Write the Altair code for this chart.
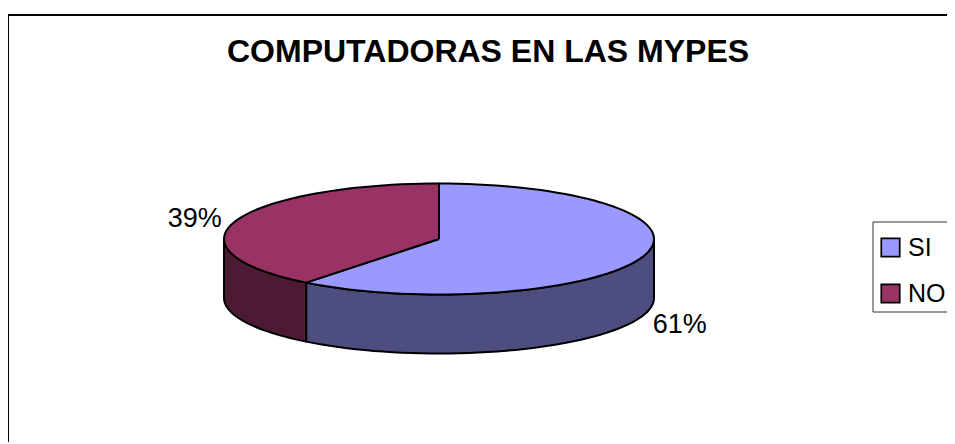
import numpy as np
import pandas as pd
import altair as alt

categories = ["SI", "NO"]
shares = [60.6, 39.4]
labels = ["61%", "39%"]
top_colors = ["#9999FF", "#993366"]
side_colors = ["#4D4D80", "#4D1A33"]
title_text = "COMPUTADORAS EN LAS MYPES"

# layout (page pixels)
PLOT_L, PLOT_T, PLOT_W, PLOT_H = 8, 15, 939, 427
CX, CY, RX, RY, DEPTH = 439, 239, 215, 55.5, 59
FONT = "Liberation Sans"
STROKE = 2

x_dom = [(PLOT_L - CX) / RX, (PLOT_L + PLOT_W - CX) / RX]
y_dom = [(CY - (PLOT_T + PLOT_H)) / RY, (CY - PLOT_T) / RY]
depth_u = DEPTH / RY

total = sum(shares)
edges = np.cumsum([0] + shares) / total * 2 * np.pi  # clockwise from 12 o'clock


def arc(a0, a1, n=70):
    t = np.linspace(a0, a1, max(2, int(n * (a1 - a0) / np.pi) + 2))
    return np.sin(t), np.cos(t)


tops, sides = [], []
for k, cat in enumerate(categories):
    ax, ay = arc(edges[k], edges[k + 1])
    px = np.r_[0, ax, 0]
    py = np.r_[0, ay, 0]
    tops.append(pd.DataFrame({"serie": cat, "i": range(len(px)), "x": px, "y": py}))
    # visible wall: the part of the rim on the front half of the ellipse
    a0 = max(edges[k], np.pi / 2)
    a1 = min(edges[k + 1], 3 * np.pi / 2)
    wx, wy = arc(a0, a1)
    sx = np.r_[wx, wx[::-1], wx[0]]
    sy = np.r_[wy, wy[::-1] - depth_u, wy[0]]
    sides.append(pd.DataFrame({"serie": cat, "i": range(len(sx)), "x": sx, "y": sy}))

top_df = pd.concat(tops)

X = alt.X("x:Q", scale=alt.Scale(domain=x_dom, nice=False, zero=False), axis=None)
Y = alt.Y("y:Q", scale=alt.Scale(domain=y_dom, nice=False, zero=False), axis=None)

fr = alt.Chart(pd.DataFrame({"a": [0]}))
layers = []

# legend box
layers.append(
    fr.mark_rect(fill="white", stroke="#333333", strokeWidth=1).encode(
        x=alt.value(873 - PLOT_L),
        x2=alt.value(PLOT_W + 5),
        y=alt.value(222 - PLOT_T),
        y2=alt.value(312 - PLOT_T),
    )
)

for k, side in enumerate(sides):
    layers.append(
        alt.Chart(side)
        .mark_line(fill=side_colors[k], stroke="black", strokeWidth=STROKE, strokeJoin="round")
        .encode(x=X, y=Y, order="i:Q")
    )

layers.append(
    alt.Chart(top_df)
    .mark_line(stroke="black", strokeWidth=STROKE, strokeJoin="round")
    .encode(
        x=X,
        y=Y,
        order="i:Q",
        detail="serie:N",
        fill=alt.Fill(
            "serie:N",
            scale=alt.Scale(domain=categories, range=top_colors),
            sort=categories,
            legend=alt.Legend(
                title=None,
                orient="none",
                legendX=870,
                legendY=220,
                symbolType="square",
                symbolSize=340,
                symbolStrokeColor="black",
                symbolStrokeWidth=1.7,
                labelFont=FONT,
                labelFontSize=25,
                labelColor="black",
                labelOffset=5,
                labelLimit=80,
                rowPadding=19,
                padding=0,
                symbolOpacity=1,
            ),
        ),
    )
)

# percentage labels anchored on each slice's mid-angle
mids = (edges[:-1] + edges[1:]) / 2
offsets = [(37.5, 68), (-41, -2)]
for k, lab in enumerate(labels):
    d = pd.DataFrame({"x": [np.sin(mids[k])], "y": [np.cos(mids[k])], "t": [lab]})
    layers.append(
        alt.Chart(d)
        .mark_text(font=FONT, fontSize=27, color="black", dx=offsets[k][0], dy=offsets[k][1])
        .encode(x=X, y=Y, text="t:N")
    )

# frame: only left and top edges are visible in the picture
layers.append(fr.mark_rule(color="black", strokeWidth=2).encode(x=alt.value(0), y=alt.value(0), y2=alt.value(PLOT_H)))
layers.append(fr.mark_rule(color="black", strokeWidth=2).encode(x=alt.value(0), x2=alt.value(PLOT_W), y=alt.value(0)))

chart = (
    alt.layer(*layers)
    .properties(
        width=PLOT_W,
        height=PLOT_H,
        autosize=alt.AutoSizeParams(type="none"),
        padding={"left": 0, "top": PLOT_T - 8, "right": 0, "bottom": 0},
        title=alt.TitleParams(
            title_text,
            font=FONT,
            fontSize=32,
            fontWeight="bold",
            color="black",
            anchor="start",
            frame="group",
            dx=219,
            dy=59,
        ),
    )
    .configure_view(stroke=None)
)

chart.save("out.html", embed_options={"renderer": "svg", "actions": False})
